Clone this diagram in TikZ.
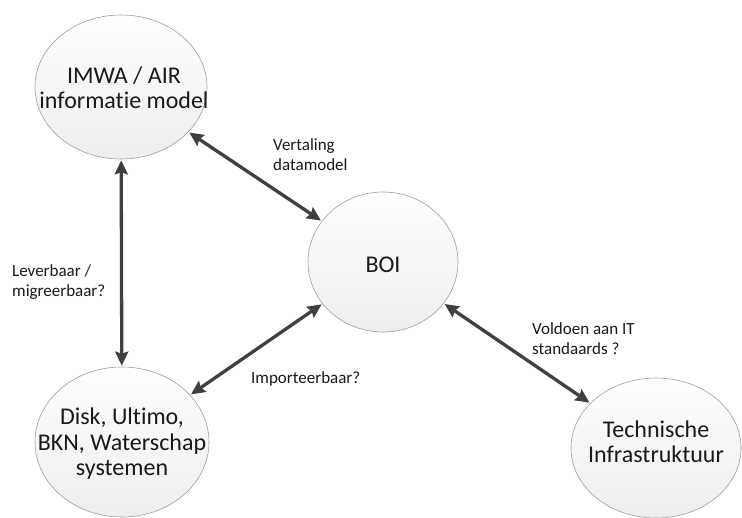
\documentclass[tikz,border=0pt]{standalone}
\usepackage{fontspec}
\setmainfont[Ligatures={NoCommon}]{Carlito}
\usetikzlibrary{shapes.geometric,arrows.meta}
\begin{document}
\begin{tikzpicture}[x=1pt,y=-1pt,
  bubble/.style={ellipse,draw=gray!75,line width=0.6pt,top color=white,bottom color=gray!14,inner sep=0pt},
  btext/.style={align=center,font=\fontsize{24}{25.5}\selectfont,inner sep=0pt,text=black!90},
  link/.style={line width=3.3pt,draw=black!75,{Stealth[length=14pt,width=13pt,inset=2pt]}-{Stealth[length=14pt,width=13pt,inset=2pt]},shorten <=1pt,shorten >=1pt},
  lbl/.style={anchor=west,align=left,font=\fontsize{17}{20}\selectfont,inner sep=0pt,text=black!90}]
\useasboundingbox[fill=white] (0,0) rectangle (742,518);
\node[bubble,minimum width=172pt,minimum height=144pt] (imwa) at (121,87) {};
\node[bubble,minimum width=150pt,minimum height=140pt] (boi) at (383,262) {};
\node[bubble,minimum width=174pt,minimum height=150pt] (disk) at (122,442) {};
\node[bubble,minimum width=170pt,minimum height=140pt] (tech) at (656,448) {};
\node[btext] (imwat) at (124,88) {IMWA / AIR\\informatie model};
\node[btext] (boit) at (383,265) {BOI};
\node[btext] (diskt) at (122,444) {Disk, Ultimo,\\BKN, Waterschap\\systemen};
\node[btext] (techt) at (656,442) {Technische\\Infrastruktuur};
\draw[link] (imwa) -- (boi);
\draw[link] (imwa) -- (disk);
\draw[link] (disk) -- (boi);
\draw[link] (boi) -- (tech);
\node[lbl] (l1) at (273,155) {Vertaling\\datamodel};
\node[lbl] (l2) at (12,282) {Leverbaar /\\migreerbaar?};
\node[lbl] (l3) at (251,379) {Importeerbaar?};
\node[lbl] (l4) at (532,339) {Voldoen aan IT\\standaards ?};
\end{tikzpicture}
\end{document}
